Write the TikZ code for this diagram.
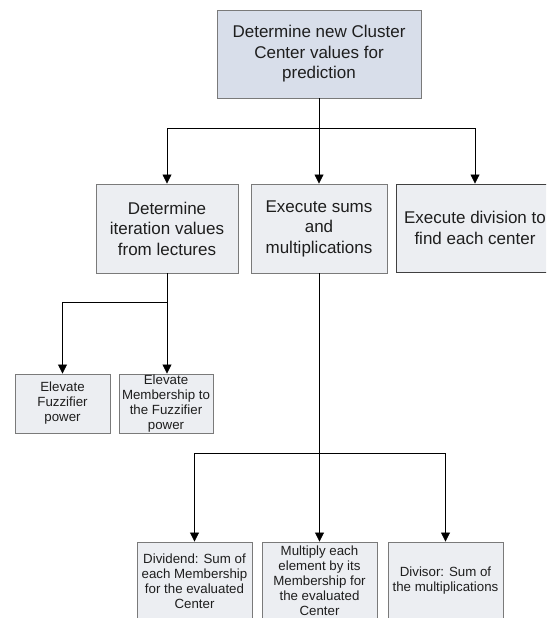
\documentclass[tikz,border=0pt]{standalone}
\usepackage{fontspec}
\setmainfont{Liberation Sans}
\usetikzlibrary{arrows.meta}
\definecolor{topfill}{HTML}{D8DEEA}
\definecolor{boxfill}{HTML}{ECEEF2}
\definecolor{boxline}{HTML}{7A7A7A}
\definecolor{txt}{HTML}{1E1E1E}
\tikzset{
  box/.style={draw=boxline, fill=boxfill, line width=0.9pt, inner sep=0pt,
    align=center, text=txt},
  bigtext/.style={font=\fontsize{17}{20.5}\selectfont},
  smalltext/.style={font=\fontsize{13.3}{15}\selectfont},
  link/.style={line width=0.8pt, black},
  arr/.style={link, -{Triangle[width=9pt,length=9pt]}}
}
\begin{document}
\begin{tikzpicture}[x=1pt,y=-1pt]
\useasboundingbox (0,0) rectangle (546,618);
\clip (0,0) rectangle (546,618);
% root
\node[box, bigtext, fill=topfill, minimum width=204pt, minimum height=88pt]
  (top) at (319,54) {Determine new Cluster\\Center values for\\prediction};
% second level
\node[box, bigtext, minimum width=142pt, minimum height=89pt]
  (m1) at (167,228.5) {Determine\\iteration values\\from lectures};
\node[box, bigtext, minimum width=136pt, minimum height=89pt]
  (m2) at (319,228.5) {Execute sums\\and\\multiplications};
\node[box, bigtext, draw=black!75, minimum width=158pt, minimum height=88pt]
  (m3) at (475,228) {Execute division to\\find each center};
% under the lectures step
\node[box, smalltext, minimum width=95pt, minimum height=59pt]
  (s1) at (62.5,403.5) {Elevate\\Fuzzifier\\power};
\node[box, smalltext, minimum width=94pt, minimum height=59pt]
  (s2) at (166,403.5) {Elevate\\Membership to\\the Fuzzifier\\power};
% under the sums step
\node[box, smalltext, minimum width=115pt, minimum height=78pt]
  (b1) at (194.5,581) {Dividend: Sum of\\each Membership\\for the evaluated\\Center};
\node[box, smalltext, minimum width=115pt, minimum height=78pt]
  (b2) at (319.5,581) {Multiply each\\element by its\\Membership for\\the evaluated\\Center};
\node[box, smalltext, minimum width=115pt, minimum height=78pt]
  (b3) at (445.5,581) {Divisor: Sum of\\the multiplications};
% connectors
\coordinate (j1) at (319,128);
\draw[link] (top.south) -- (j1);
\draw[arr] (j1) -| (m1.north);
\draw[arr] (j1) -- (m2.north);
\draw[arr] (j1) -| (m3.north);
\coordinate (j2) at (167,302);
\draw[link] (m1.south) -- (j2);
\draw[arr] (j2) -| (s1.north);
\draw[arr] (j2) -- (j2 |- s2.north);
\coordinate (j3) at (319.5,453);
\draw[link] (m2.south) -- (m2.south |- j3);
\draw[arr] (j3) -| (b1.north);
\draw[arr] (j3) -- (b2.north);
\draw[arr] (j3) -| (b3.north);
\end{tikzpicture}
\end{document}
